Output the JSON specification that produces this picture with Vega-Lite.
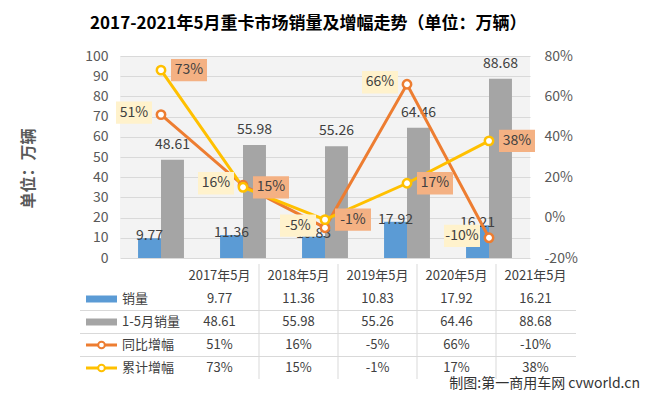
{
  "$schema": "https://vega.github.io/schema/vega-lite/v6.json",
  "padding": {"left": 20, "top": 15, "right": 5, "bottom": 5},
  "background": "white",
  "bounds": "flush",
  "spacing": 6,
  "title": {"text": "2017-2021年5月重卡市场销量及增幅走势（单位：万辆）", "fontSize": 17, "fontWeight": "bold", "font": "Noto Sans CJK SC", "color": "#000000", "anchor": "middle", "dx": -22, "offset": 16},
  "config": {
    "view": {"stroke": null},
    "font": "Noto Sans CJK SC",
    "locale": {"number": {"decimal": ".", "thousands": ",", "grouping": [3], "currency": ["", ""], "minus": "-", "percent": "%"}}
  },
  "data": {"values": [
    {"cat": "2017年5月", "sales": 9.77, "cum": 48.61, "yoy": 0.51, "cumg": 0.73},
    {"cat": "2018年5月", "sales": 11.36, "cum": 55.98, "yoy": 0.16, "cumg": 0.15},
    {"cat": "2019年5月", "sales": 10.83, "cum": 55.26, "yoy": -0.05, "cumg": -0.01},
    {"cat": "2020年5月", "sales": 17.92, "cum": 64.46, "yoy": 0.66, "cumg": 0.17},
    {"cat": "2021年5月", "sales": 16.21, "cum": 88.68, "yoy": -0.10, "cumg": 0.38}
  ]},
  "vconcat": [
    {
      "width": 410,
      "height": 202,
      "view": {"fill": "#f3f3f3", "stroke": null},
      "layer": [
        {
          "transform": [{"fold": ["sales", "cum"], "as": ["k", "v"]}],
          "encoding": {
            "x": {"field": "cat", "type": "nominal", "sort": null, "scale": {"paddingInner": 0.44, "paddingOuter": 0.22}, "axis": null},
            "xOffset": {"field": "k", "type": "nominal", "sort": null, "scale": {"domain": ["sales", "cum"], "paddingInner": 0, "paddingOuter": 0}},
            "y": {"field": "v", "type": "quantitative", "scale": {"domain": [0, 100], "nice": false},
              "axis": {"orient": "left", "values": [0, 10, 20, 30, 40, 50, 60, 70, 80, 90, 100], "title": "单位：万辆", "titleFontSize": 16, "titleFontWeight": "bold", "titleColor": "#595959", "titlePadding": 48, "titleY": 112, "labelFontSize": 14, "labelColor": "#595959", "labelPadding": 12, "ticks": false, "domain": false, "grid": true, "gridColor": "#d9d9d9"}}
          },
          "layer": [
            {
              "mark": {"type": "bar"},
              "encoding": {
                "color": {"field": "k", "type": "nominal", "scale": {"domain": ["sales", "cum"], "range": ["#5B9BD5", "#A5A5A5"]}, "legend": null}
              }
            },
            {
              "transform": [{"filter": "datum.k == 'sales'"}],
              "mark": {"type": "text", "dy": -2, "fontSize": 14, "color": "#404040"},
              "encoding": {"text": {"field": "v", "type": "quantitative", "format": ".2f"}}
            },
            {
              "transform": [{"filter": "datum.k == 'cum'"}],
              "mark": {"type": "text", "dy": -15, "fontSize": 14, "color": "#404040"},
              "encoding": {"text": {"field": "v", "type": "quantitative", "format": ".2f"}}
            }
          ]
        },
        {
          "encoding": {
            "x": {"field": "cat", "type": "nominal", "sort": null}
          },
          "layer": [
            {
              "mark": {"type": "line", "color": "#ED7D31", "strokeWidth": 3},
              "encoding": {"y": {"field": "yoy", "type": "quantitative", "title": null, "scale": {"domain": [-0.2, 0.8], "nice": false},
                "axis": {"orient": "right", "values": [-0.2, -0.1, 0, 0.1, 0.2, 0.3, 0.4, 0.5, 0.6, 0.7, 0.8], "format": ".0%", "title": null, "labelFontSize": 14, "labelColor": "#595959", "labelPadding": 14, "ticks": false, "domain": false, "grid": false}}}
            },
            {
              "mark": {"type": "line", "color": "#FFC000", "strokeWidth": 3},
              "encoding": {"y": {"field": "cumg", "type": "quantitative", "title": null}}
            },
            {
              "mark": {"type": "point", "shape": "circle", "filled": true, "fill": "white", "stroke": "#ED7D31", "strokeWidth": 2.5, "size": 70, "opacity": 1},
              "encoding": {"y": {"field": "yoy", "type": "quantitative", "title": null}}
            },
            {
              "mark": {"type": "point", "shape": "circle", "filled": true, "fill": "white", "stroke": "#FFC000", "strokeWidth": 2.5, "size": 70, "opacity": 1},
              "encoding": {"y": {"field": "cumg", "type": "quantitative", "title": null}}
            },
            {
              "mark": {"type": "point", "shape": "M-1,-0.62L1,-0.62L1,0.62L-1,0.62Z", "filled": true, "fill": "#FFF2CC", "strokeWidth": 0, "size": 1296, "opacity": 1, "xOffset": -27, "yOffset": -2},
              "encoding": {"y": {"field": "yoy", "type": "quantitative", "title": null}}
            },
            {
              "mark": {"type": "point", "shape": "M-1,-0.62L1,-0.62L1,0.62L-1,0.62Z", "filled": true, "fill": "#F4B183", "strokeWidth": 0, "size": 1296, "opacity": 1, "xOffset": 28, "yOffset": 0},
              "encoding": {"y": {"field": "cumg", "type": "quantitative", "title": null}}
            },
            {
              "mark": {"type": "text", "dx": -27, "dy": -2, "fontSize": 14, "color": "#404040"},
              "encoding": {"y": {"field": "yoy", "type": "quantitative", "title": null}, "text": {"field": "yoy", "type": "quantitative", "format": ".0%"}}
            },
            {
              "mark": {"type": "text", "dx": 28, "dy": 0, "fontSize": 14, "color": "#404040"},
              "encoding": {"y": {"field": "cumg", "type": "quantitative", "title": null}, "text": {"field": "cumg", "type": "quantitative", "format": ".0%"}}
            }
          ]
        }
      ],
      "resolve": {"scale": {"y": "independent"}}
    },
    {
      "width": 460,
      "height": 120,
      "encoding": {
        "x": {"field": "cat", "type": "nominal", "sort": null, "scale": {"type": "band", "range": [60, 455], "paddingInner": 0, "paddingOuter": 0}, "axis": null}
      },
      "layer": [
        {
          "transform": [{"filter": "datum.cat != '2021年5月'"}],
          "mark": {"type": "rule", "color": "#d9d9d9", "strokeWidth": 1, "xOffset": 39.5, "yOffset": -12, "y2Offset": 11},
          "encoding": {
            "y": {"datum": "cat", "type": "nominal", "scale": {"type": "point", "domain": ["cat", "sales", "cum", "yoy", "cumg"], "range": [12, 104], "padding": 0}, "axis": null},
            "y2": {"datum": "cumg"}
          }
        },
        {
          "mark": {"type": "text", "fontSize": 13, "color": "#404040"},
          "encoding": {"y": {"datum": "cat", "type": "nominal"}, "text": {"field": "cat", "type": "nominal"}}
        },
        {
          "mark": {"type": "text", "fontSize": 13, "color": "#404040"},
          "encoding": {"y": {"datum": "sales", "type": "nominal"}, "text": {"field": "sales", "type": "quantitative", "format": ".2f"}}
        },
        {
          "mark": {"type": "text", "fontSize": 13, "color": "#404040"},
          "encoding": {"y": {"datum": "cum", "type": "nominal"}, "text": {"field": "cum", "type": "quantitative", "format": ".2f"}}
        },
        {
          "mark": {"type": "text", "fontSize": 13, "color": "#404040"},
          "encoding": {"y": {"datum": "yoy", "type": "nominal"}, "text": {"field": "yoy", "type": "quantitative", "format": ".0%"}}
        },
        {
          "mark": {"type": "text", "fontSize": 13, "color": "#404040"},
          "encoding": {"y": {"datum": "cumg", "type": "nominal"}, "text": {"field": "cumg", "type": "quantitative", "format": ".0%"}}
        },
        {
          "transform": [{"filter": "datum.cat == '2017年5月'"}],
          "layer": [
            {
              "transform": [{"fold": ["cum", "yoy", "cumg"], "as": ["k", "v"]}],
              "mark": {"type": "rule", "color": "#d9d9d9", "strokeWidth": 1, "xOffset": -139.5, "x2Offset": 40.5, "yOffset": -11.5},
              "encoding": {"y": {"field": "k", "type": "nominal"}, "x2": {"datum": "2021年5月"}}
            },
            {
              "mark": {"type": "rule", "color": "#5B9BD5", "strokeWidth": 7, "xOffset": -133.5, "x2Offset": -102.5},
              "encoding": {"y": {"datum": "sales", "type": "nominal"}, "x2": {"field": "cat"}}
            },
            {
              "mark": {"type": "rule", "color": "#A5A5A5", "strokeWidth": 7, "xOffset": -133.5, "x2Offset": -102.5},
              "encoding": {"y": {"datum": "cum", "type": "nominal"}, "x2": {"field": "cat"}}
            },
            {
              "mark": {"type": "rule", "color": "#ED7D31", "strokeWidth": 3, "xOffset": -133.5, "x2Offset": -102.5},
              "encoding": {"y": {"datum": "yoy", "type": "nominal"}, "x2": {"field": "cat"}}
            },
            {
              "mark": {"type": "rule", "color": "#FFC000", "strokeWidth": 3, "xOffset": -133.5, "x2Offset": -102.5},
              "encoding": {"y": {"datum": "cumg", "type": "nominal"}, "x2": {"field": "cat"}}
            },
            {
              "mark": {"type": "point", "shape": "circle", "filled": true, "fill": "white", "stroke": "#ED7D31", "strokeWidth": 2, "size": 45, "opacity": 1, "xOffset": -118},
              "encoding": {"y": {"datum": "yoy", "type": "nominal"}}
            },
            {
              "mark": {"type": "point", "shape": "circle", "filled": true, "fill": "white", "stroke": "#FFC000", "strokeWidth": 2, "size": 45, "opacity": 1, "xOffset": -118},
              "encoding": {"y": {"datum": "cumg", "type": "nominal"}}
            },
            {
              "mark": {"type": "text", "fontSize": 13, "color": "#404040", "align": "left", "dx": -97.5},
              "encoding": {"y": {"datum": "sales", "type": "nominal"}, "text": {"value": "销量"}}
            },
            {
              "mark": {"type": "text", "fontSize": 13, "color": "#404040", "align": "left", "dx": -97.5},
              "encoding": {"y": {"datum": "cum", "type": "nominal"}, "text": {"value": "1-5月销量"}}
            },
            {
              "mark": {"type": "text", "fontSize": 13, "color": "#404040", "align": "left", "dx": -97.5},
              "encoding": {"y": {"datum": "yoy", "type": "nominal"}, "text": {"value": "同比增幅"}}
            },
            {
              "mark": {"type": "text", "fontSize": 13, "color": "#404040", "align": "left", "dx": -97.5},
              "encoding": {"y": {"datum": "cumg", "type": "nominal"}, "text": {"value": "累计增幅"}}
            },
            {
              "mark": {"type": "text", "fontSize": 14, "color": "#333333", "align": "right", "dx": 104.5, "dy": 16},
              "encoding": {"x": {"datum": "2021年5月"}, "y": {"datum": "cumg", "type": "nominal"}, "text": {"value": "制图:第一商用车网 cvworld.cn"}}
            }
          ]
        }
      ]
    }
  ]
}
